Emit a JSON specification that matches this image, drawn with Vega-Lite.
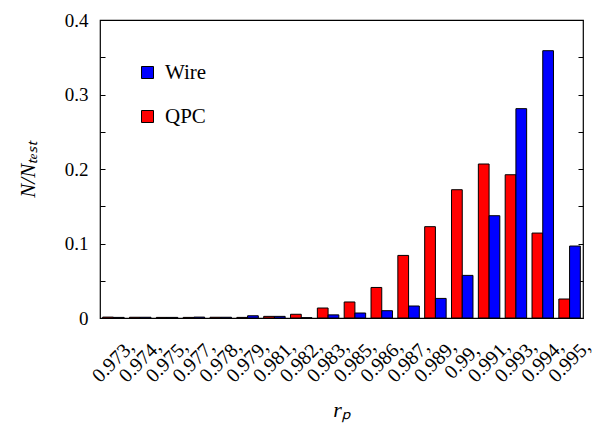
{
  "$schema": "https://vega.github.io/schema/vega-lite/v6.json",
  "width": 483,
  "height": 298,
  "autosize": {"type": "none"},
  "padding": {"left": 100, "top": 20, "right": 10, "bottom": 105},
  "background": "white",
  "config": {
    "view": {"stroke": "black", "strokeWidth": 1.2},
    "font": "Liberation Serif",
    "axis": {"labelFont": "Liberation Serif", "titleFont": "Liberation Serif", "labelColor": "black", "titleColor": "black", "domain": false, "grid": false}
  },
  "data": {"values": [
    {"r": "0.973", "series": "QPC", "v": 0.0012}, {"r": "0.973", "series": "Wire", "v": 0.0008},
    {"r": "0.974", "series": "QPC", "v": 0.0010}, {"r": "0.974", "series": "Wire", "v": 0.0010},
    {"r": "0.975", "series": "QPC", "v": 0.0008}, {"r": "0.975", "series": "Wire", "v": 0.0008},
    {"r": "0.977", "series": "QPC", "v": 0.0008}, {"r": "0.977", "series": "Wire", "v": 0.0012},
    {"r": "0.978", "series": "QPC", "v": 0.0010}, {"r": "0.978", "series": "Wire", "v": 0.0010},
    {"r": "0.979", "series": "QPC", "v": 0.0008}, {"r": "0.979", "series": "Wire", "v": 0.0030},
    {"r": "0.981", "series": "QPC", "v": 0.0022}, {"r": "0.981", "series": "Wire", "v": 0.0022},
    {"r": "0.982", "series": "QPC", "v": 0.0050}, {"r": "0.982", "series": "Wire", "v": 0.0004},
    {"r": "0.983", "series": "QPC", "v": 0.0134}, {"r": "0.983", "series": "Wire", "v": 0.0042},
    {"r": "0.985", "series": "QPC", "v": 0.0215}, {"r": "0.985", "series": "Wire", "v": 0.0067},
    {"r": "0.986", "series": "QPC", "v": 0.0410}, {"r": "0.986", "series": "Wire", "v": 0.0098},
    {"r": "0.987", "series": "QPC", "v": 0.0840}, {"r": "0.987", "series": "Wire", "v": 0.0161},
    {"r": "0.989", "series": "QPC", "v": 0.1226}, {"r": "0.989", "series": "Wire", "v": 0.0263},
    {"r": "0.99", "series": "QPC", "v": 0.1722}, {"r": "0.99", "series": "Wire", "v": 0.0572},
    {"r": "0.991", "series": "QPC", "v": 0.2067}, {"r": "0.991", "series": "Wire", "v": 0.1373},
    {"r": "0.993", "series": "QPC", "v": 0.1923}, {"r": "0.993", "series": "Wire", "v": 0.2810},
    {"r": "0.994", "series": "QPC", "v": 0.1140}, {"r": "0.994", "series": "Wire", "v": 0.3588},
    {"r": "0.995", "series": "QPC", "v": 0.0255}, {"r": "0.995", "series": "Wire", "v": 0.0966}
  ]},
  "layer": [
    {
      "mark": {"type": "bar", "stroke": "black", "strokeWidth": 1},
      "encoding": {
        "x": {"field": "r", "type": "nominal", "sort": null,
          "scale": {"paddingInner": 0.2, "paddingOuter": 0.1},
          "axis": {"title": "rₚ", "titleFontSize": 22, "titleFontStyle": "italic", "titleFontWeight": "normal", "titlePadding": 14,
            "labelExpr": "datum.label + ','", "labelAngle": -45, "labelAlign": "center", "labelBaseline": "middle", "labelFontSize": 20, "labelPadding": 43, "ticks": false}},
        "xOffset": {"field": "series", "type": "nominal", "sort": ["QPC", "Wire"], "scale": {"domain": ["QPC", "Wire"], "paddingInner": 0, "paddingOuter": 0}},
        "y": {"field": "v", "type": "quantitative",
          "scale": {"domain": [0, 0.4], "nice": false, "zero": true},
          "axis": {"title": "N/Nₜₑₛₜ", "titleFontSize": 21, "titleFontStyle": "italic", "titleFontWeight": "normal", "titlePadding": 26,
            "values": [0, 0.05, 0.1, 0.15, 0.2, 0.25, 0.3, 0.35, 0.4],
            "labelExpr": "(round(datum.value*100) % 10 == 0) ? format(datum.value, '') : ''",
            "labelFontSize": 19, "offset": -5, "tickSize": 5, "tickColor": "black", "tickWidth": 1, "labelPadding": 12}},
        "color": {"field": "series", "type": "nominal",
          "scale": {"domain": ["Wire", "QPC"], "range": ["#0000ff", "#ff0000"]},
          "legend": {"title": null, "orient": "none", "legendX": 37, "legendY": 42, "symbolType": "square", "symbolSize": 144,
            "symbolStrokeColor": "black", "symbolStrokeWidth": 1, "symbolOpacity": 1, "labelFontSize": 21, "labelFont": "Liberation Serif", "labelOffset": 7, "rowPadding": 22}}
      }
    },
    {
      "mark": {"type": "bar", "opacity": 0},
      "encoding": {
        "x": {"field": "r", "type": "nominal", "sort": null},
        "y": {"field": "v", "type": "quantitative",
          "axis": {"orient": "right", "title": null, "labels": false, "offset": -5,
            "values": [0, 0.05, 0.1, 0.15, 0.2, 0.25, 0.3, 0.35, 0.4], "tickSize": 5, "tickColor": "black", "tickWidth": 1}}
      }
    }
  ],
  "resolve": {"axis": {"y": "independent"}}
}
